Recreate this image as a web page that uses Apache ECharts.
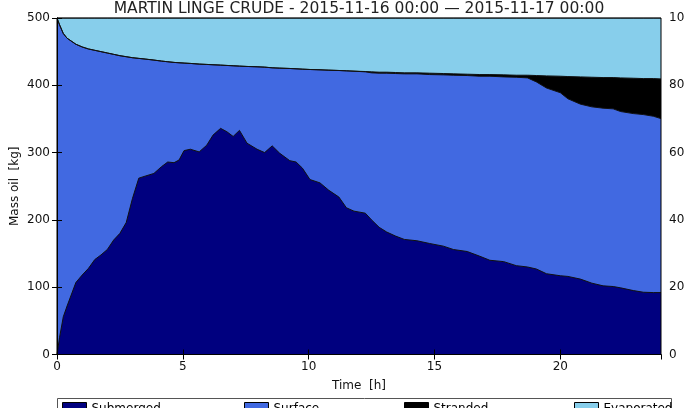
<!DOCTYPE html>
<html>
<head>
<meta charset="utf-8">
<script src="https://cdn.jsdelivr.net/npm/echarts@6/dist/echarts.min.js"></script>
<style>
html,body{margin:0;padding:0;background:#fff;}
#chart{width:685px;height:408px;}
</style>
</head>
<body>
<div id="chart"></div>
<script>
// Time [h]
var hours = [0, 0.1, 0.25, 0.4, 0.75, 1.0, 1.25, 1.5, 1.75, 2.0, 2.25, 2.5, 2.75, 3.0, 3.25, 3.5, 3.85, 4.15, 4.4, 4.65, 4.85, 5.05, 5.3, 5.65, 5.95, 6.2, 6.5, 6.75, 7.0, 7.25, 7.55, 7.95, 8.25, 8.55, 8.85, 9.25, 9.5, 9.75, 10.05, 10.45, 10.8, 11.2, 11.5, 11.8, 12.25, 12.5, 12.8, 13.1, 13.45, 13.8, 14.3, 14.8, 15.35, 15.75, 16.3, 16.8, 17.2, 17.75, 18.25, 18.7, 19.05, 19.45, 20.0, 20.3, 20.8, 21.25, 21.7, 22.1, 22.4, 22.9, 23.3, 23.7, 24];
// Mass oil [kg] per component
var submerged = [0, 25, 56, 72, 107, 118, 128, 141, 148, 156, 170, 180, 196, 232, 262, 265, 269, 279, 286, 285, 289, 303, 305, 301, 311, 326, 336, 331, 324, 333, 314, 305, 300, 310, 299, 288, 286, 277, 260, 255, 244, 234, 218, 213, 210, 200, 189, 182, 176, 171, 169, 165, 161, 156, 153, 146, 140, 138, 132, 130, 127, 120, 117, 116, 112, 106, 102, 101, 99, 95, 92.5, 92, 92];
var surface = [500, 465, 421, 398, 354, 339, 326, 311, 302, 292, 276, 264, 246.5, 209, 178, 174, 168.5, 157, 149, 149, 144.5, 130, 127.5, 130.5, 120, 104.5, 94, 98.5, 105, 95.5, 114, 122.5, 127, 116, 126.5, 137, 138.5, 147, 163.5, 168, 178.5, 188, 203.5, 208, 210, 218.5, 229, 236, 241.5, 246, 248, 251, 254.5, 259, 261.5, 267.5, 273.5, 274.5, 280, 281, 278, 276, 272, 264, 260, 262, 264, 264, 262, 263, 264, 262, 258.5];
var stranded = [0, 0, 0, 0, 0, 0, 0, 0, 0, 0, 0, 0, 0, 0, 0, 0, 0, 0, 0, 0, 0, 0, 0, 0, 0, 0, 0, 0, 0, 0, 0, 0, 0, 0, 0, 0, 0, 0, 0, 0, 0, 0, 0, 0, 0.5, 1.5, 1.5, 1.5, 1.5, 1.5, 1.5, 2, 2, 2, 2, 2.5, 2.5, 3, 3, 4, 9.5, 18, 24.5, 33, 40.5, 44, 45.5, 46.5, 50, 52.5, 53.5, 56, 59];
var evaporated = [0, 10, 23, 30, 39, 43, 46, 48, 50, 52, 54, 56, 57.5, 59, 60, 61, 62.5, 64, 65, 66, 66.5, 67, 67.5, 68.5, 69, 69.5, 70, 70.5, 71, 71.5, 72, 72.5, 73, 74, 74.5, 75, 75.5, 76, 76.5, 77, 77.5, 78, 78.5, 79, 79.5, 80, 80.5, 80.5, 81, 81.5, 81.5, 82, 82.5, 83, 83.5, 84, 84, 84.5, 85, 85, 85.5, 86, 86.5, 87, 87.5, 88, 88.5, 88.5, 89, 89.5, 90, 90, 90.5];

var seriesNames = ['Submerged', 'Surface', 'Stranded', 'Evaporated'];
var seriesColors = ['#00007f', '#4169e1', '#000000', '#87ceeb'];
var seriesValues = [submerged, surface, stranded, evaporated];
var xTicks = [0, 5, 10, 15, 20];
var titleText = 'MARTIN LINGE CRUDE - 2015-11-16 00:00 \u2014 2015-11-17 00:00';

var FONT = 'DejaVu Sans';
var chart = echarts.init(document.getElementById('chart'), null, {renderer: 'canvas'});

// cumulative stack (bottom to top)
var cumul = [];
var running = hours.map(function () { return 0; });
seriesValues.forEach(function (vals) {
  running = running.map(function (r, i) { return r + vals[i]; });
  cumul.push(running.slice());
});

// draw from top layer down so lower layers cover upper fills
var series = [];
for (var k = seriesNames.length - 1; k >= 0; k--) {
  series.push({
    name: seriesNames[k],
    type: 'line',
    data: hours.map(function (h, i) { return [h, cumul[k][i]]; }),
    showSymbol: false,
    symbol: 'none',
    smooth: false,
    lineStyle: {color: '#111', width: 1},
    areaStyle: {color: seriesColors[k], opacity: 1, origin: 'start'},
    itemStyle: {color: seriesColors[k]},
    emphasis: {disabled: true},
    z: 2
  });
}

var legendLefts = [62, 244, 404, 574];
var legends = seriesNames.map(function (name, k) {
  return {
    data: [{name: name, icon: 'rect', itemStyle: {color: seriesColors[k], borderColor: '#000', borderWidth: 1}}],
    left: legendLefts[k],
    top: 402,
    padding: 0,
    itemWidth: 24,
    itemHeight: 12,
    selectedMode: false,
    textStyle: {fontFamily: FONT, fontSize: 12, color: '#000'}
  };
});

var tickStyle = {show: true, inside: true, length: 5, lineStyle: {color: '#000', width: 1}};

chart.setOption({
  animation: false,
  backgroundColor: '#fff',
  grid: {left: 57, right: 24, top: 18, bottom: 53.5, containLabel: false, outerBoundsMode: 'none',
    show: true, borderColor: '#000', borderWidth: 1, backgroundColor: 'transparent', z: 10},
  graphic: [
    {type: 'text', x: 359, y: 1, z: 100, style: {text: titleText, textAlign: 'center', textVerticalAlign: 'top', font: '15.5px "DejaVu Sans"', fill: '#222'}},
    {type: 'rect', shape: {x: 57.5, y: 398.5, width: 614, height: 30}, z: 1, style: {fill: '#fff', stroke: '#555', lineWidth: 1}}
  ],
  legend: legends,
  xAxis: [
    {
      type: 'value', min: 0, max: 24, interval: 5, position: 'bottom', z: 10,
      name: 'Time  [h]', nameLocation: 'middle', nameGap: 25,
      nameTextStyle: {fontFamily: FONT, fontSize: 12, color: '#111'},
      axisLine: {show: true, onZero: false, lineStyle: {color: '#000'}},
      axisTick: tickStyle,
      splitLine: {show: false},
      axisLabel: {fontFamily: FONT, fontSize: 12, color: '#111', margin: 6, showMaxLabel: false,
        formatter: function (v) { return xTicks.indexOf(v) >= 0 ? String(v) : ''; }}
    },
    {
      type: 'value', min: 0, max: 24, interval: 5, position: 'top', z: 10,
      axisLine: {show: true, lineStyle: {color: '#000'}},
      axisTick: tickStyle,
      splitLine: {show: false},
      axisLabel: {show: false}
    }
  ],
  yAxis: [
    {
      type: 'value', min: 0, max: 500, interval: 100, position: 'left', z: 10,
      name: 'Mass oil  [kg]', nameLocation: 'middle', nameGap: 36, nameRotate: 90,
      nameMoveOverlap: false,
      nameTextStyle: {fontFamily: FONT, fontSize: 12, color: '#111'},
      axisLine: {show: true, lineStyle: {color: '#000'}},
      axisTick: tickStyle,
      splitLine: {show: false},
      axisLabel: {fontFamily: FONT, fontSize: 12, color: '#111', margin: 7}
    },
    {
      type: 'value', min: 0, max: 100, interval: 20, position: 'right', z: 10,
      axisLine: {show: true, lineStyle: {color: '#000'}},
      axisTick: tickStyle,
      splitLine: {show: false},
      axisLabel: {fontFamily: FONT, fontSize: 12, color: '#111', margin: 8}
    }
  ],
  series: series
});
</script>
</body>
</html>
